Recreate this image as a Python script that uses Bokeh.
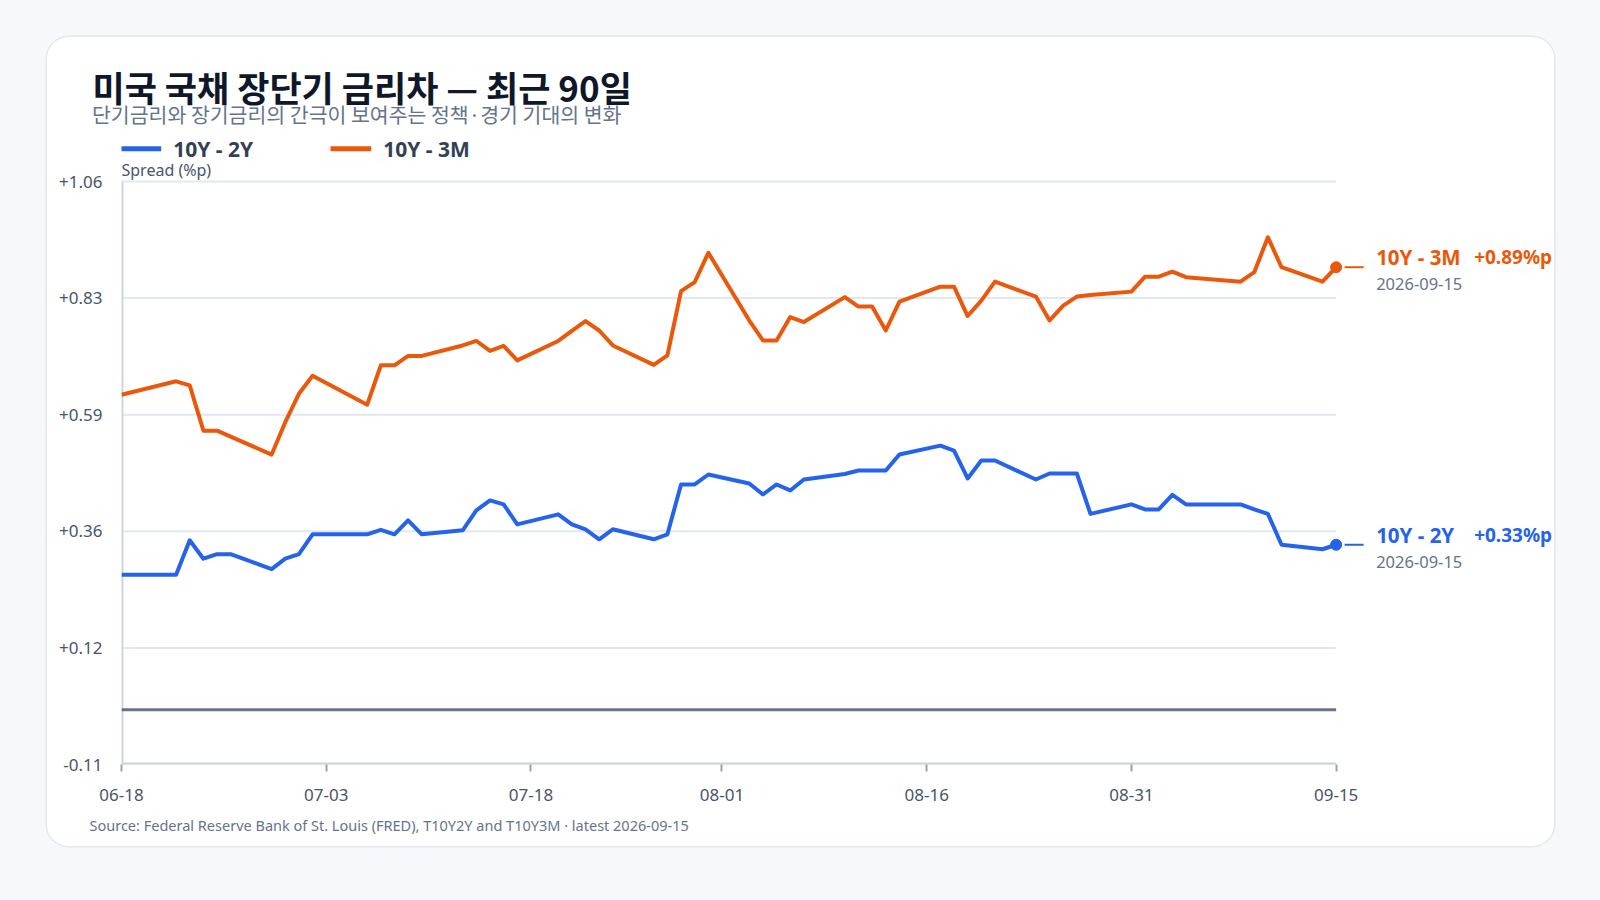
import pandas as pd
from bokeh.plotting import figure
from bokeh.models import (Range1d, FixedTicker, CustomJSTickFormatter, DatetimeTickFormatter,
                          Label, BoxAnnotation, Title)
from bokeh.core.properties import value
from bokeh.embed import file_html
from bokeh.resources import INLINE

# ---------------- data ----------------
DATES = [
    "2026-06-18", "2026-06-22", "2026-06-23", "2026-06-24", "2026-06-25", "2026-06-26",
    "2026-06-29", "2026-06-30", "2026-07-01", "2026-07-02",
    "2026-07-06", "2026-07-07", "2026-07-08", "2026-07-09", "2026-07-10",
    "2026-07-13", "2026-07-14", "2026-07-15", "2026-07-16", "2026-07-17",
    "2026-07-20", "2026-07-21", "2026-07-22", "2026-07-23", "2026-07-24",
    "2026-07-27", "2026-07-28", "2026-07-29", "2026-07-30", "2026-07-31",
    "2026-08-03", "2026-08-04", "2026-08-05", "2026-08-06", "2026-08-07",
    "2026-08-10", "2026-08-11", "2026-08-12", "2026-08-13", "2026-08-14",
    "2026-08-17", "2026-08-18", "2026-08-19", "2026-08-20", "2026-08-21",
    "2026-08-24", "2026-08-25", "2026-08-26", "2026-08-27", "2026-08-28",
    "2026-08-31", "2026-09-01", "2026-09-02", "2026-09-03", "2026-09-04",
    "2026-09-08", "2026-09-09", "2026-09-10", "2026-09-11",
    "2026-09-14", "2026-09-15",
]
SPREAD_10Y2Y = [
    0.271, 0.271, 0.340, 0.303, 0.312, 0.312,
    0.282, 0.303, 0.312, 0.352,
    0.352, 0.361, 0.352, 0.380, 0.352,
    0.360, 0.400, 0.420, 0.412, 0.372,
    0.392, 0.372, 0.362, 0.342, 0.362,
    0.342, 0.352, 0.452, 0.452, 0.472,
    0.454, 0.432, 0.452, 0.440, 0.462,
    0.473, 0.480, 0.480, 0.480, 0.512,
    0.530, 0.520, 0.464, 0.500, 0.500,
    0.462, 0.474, 0.474, 0.474, 0.393,
    0.412, 0.402, 0.402, 0.431, 0.412,
    0.412, 0.402, 0.393, 0.331,
    0.322, 0.331,
]
SPREAD_10Y3M = [
    0.632, 0.659, 0.651, 0.560, 0.560, 0.548,
    0.512, 0.577, 0.634, 0.670,
    0.612, 0.691, 0.691, 0.710, 0.710,
    0.731, 0.740, 0.720, 0.730, 0.701,
    0.740, 0.760, 0.780, 0.761, 0.731,
    0.692, 0.711, 0.840, 0.858, 0.917,
    0.781, 0.741, 0.741, 0.788, 0.778,
    0.828, 0.809, 0.809, 0.761, 0.819,
    0.849, 0.849, 0.790, 0.821, 0.859,
    0.829, 0.781, 0.811, 0.829, 0.832,
    0.839, 0.869, 0.869, 0.879, 0.868,
    0.859, 0.878, 0.948, 0.888,
    0.859, 0.888,
]
SERIES_NAMES = ["10Y - 2Y", "10Y - 3M"]
X_TICK_DATES = ["2026-06-18", "2026-07-03", "2026-07-18", "2026-08-01",
                "2026-08-16", "2026-08-31", "2026-09-15"]
Y_MIN, Y_MAX = -0.11, 1.06
Y_TICKS = [-0.11, 0.124, 0.358, 0.592, 0.826, 1.06]

TITLE = "미국 국채 장단기 금리차 — 최근 90일"
SUBTITLE = "단기금리와 장기금리의 간극이 보여주는 정책·경기 기대의 변화"
Y_LABEL = "Spread (%p)"
SOURCE = "Source: Federal Reserve Bank of St. Louis (FRED), T10Y2Y and T10Y3M · latest 2026-09-15"

# ---------------- style ----------------
BLUE = "#2563eb"
ORANGE = "#ea580c"
BG = "#f6f8fb"
GRID = "#e2e8f0"
AXIS = "#cbd5e1"
TICK = "#94a3b8"
ZERO = "#64748b"
MUTED = "#64748b"
LABEL = "#475569"
DARK = "#0f172a"
LEGEND_TXT = "#334155"
FONT = "Noto Sans, Noto Sans CJK KR, sans-serif"
FONT_KR = "Noto Sans CJK KR, Noto Sans, sans-serif"

# card geometry (figure = card)
CARD_X, CARD_Y = 47, 37
FL = 74                     # frame left inside card
FT = 95                     # frame top inside card (room for legend)
AXIS_SPAN_PX = 583          # pixel height of the y-axis span
TOP_ROOM_PX = 49            # frame space above the y-axis top (legend row)
FRAME_W = 1433
FRAME_H = AXIS_SPAN_PX + TOP_ROOM_PX
MB_BOTTOM = 81
PAD_DAYS = 16

DAY_MS = 86400000.0
epoch = pd.Timestamp("1970-01-01")
def to_ms(s):
    return float((pd.Timestamp(s) - epoch) / pd.Timedelta(milliseconds=1))

x_ms = [to_ms(d) for d in DATES]
tick_ms = [to_ms(d) for d in X_TICK_DATES]
x0, x_last = x_ms[0], x_ms[-1]
span_days = (x_last - x0) / DAY_MS
PX_PER_DAY = FRAME_W / (span_days + PAD_DAYS)
y_top = Y_MAX + (Y_MAX - Y_MIN) * TOP_ROOM_PX / AXIS_SPAN_PX

p = figure(frame_width=FRAME_W, frame_height=FRAME_H,
           x_axis_type="datetime",
           x_range=Range1d(x0, x_last + PAD_DAYS * DAY_MS),
           y_range=Range1d(Y_MIN, y_top),
           output_backend="svg", toolbar_location=None,
           min_border_left=FL, min_border_top=FT,
           min_border_right=0, min_border_bottom=MB_BOTTOM,
           background_fill_color="white", border_fill_color="white",
           outline_line_color=None)
p.grid.visible = False
p.margin = (CARD_Y, 0, 0, CARD_X)
p.styles = {"border-radius": "22px", "overflow": "hidden",
            "box-shadow": "0 0 0 1.5px #e2e8f0, 0 0 0 3000px " + BG}

# horizontal gridlines (only across data span)
p.segment(x0=[x0] * len(Y_TICKS), x1=[x_last] * len(Y_TICKS), y0=Y_TICKS, y1=Y_TICKS,
          line_color=GRID, line_width=2)
# axis baselines across the data span
p.segment(x0=[x0], x1=[x_last], y0=[Y_MIN], y1=[Y_MIN], line_color=AXIS, line_width=4)
p.segment(x0=[x0], x1=[x0], y0=[Y_MIN], y1=[Y_MAX], line_color=AXIS, line_width=4)
# zero line
p.segment(x0=[x0], x1=[x_last], y0=[0], y1=[0], line_color=ZERO, line_width=3)

# series
for vals, col in ((SPREAD_10Y2Y, BLUE), (SPREAD_10Y3M, ORANGE)):
    p.line(x_ms, vals, line_color=col, line_width=4, line_join="round")

# end markers and labels
for name, vals, col in ((SERIES_NAMES[0], SPREAD_10Y2Y, BLUE), (SERIES_NAMES[1], SPREAD_10Y3M, ORANGE)):
    last = vals[-1]
    p.scatter([x_last], [last], size=11, fill_color=col, line_color=col)
    p.segment(x0=[x_last + 8.5 / PX_PER_DAY * DAY_MS], x1=[x_last + 27.5 / PX_PER_DAY * DAY_MS],
              y0=[last], y1=[last], line_color=col, line_width=2)
    p.text(x=[x_last], y=[last], text=[name],
           x_offset=40, y_offset=-10, text_font=value(FONT), text_font_style="bold",
           text_font_size="20.5px", text_color=col, text_baseline="middle", text_align="left")
    p.text(x=[x_last], y=[last], text=[f"{last:+.2f}%p"],
           x_offset=138, y_offset=-10, text_font=value(FONT), text_font_style="bold",
           text_font_size="19px", text_color=col, text_baseline="middle", text_align="left")
    p.text(x=[x_last], y=[last], text=[DATES[-1]],
           x_offset=40, y_offset=17, text_font=value(FONT),
           text_font_size="16.5px", text_color=MUTED, text_baseline="middle", text_align="left")

# axes
xa = p.xaxis[0]
xa.ticker = FixedTicker(ticks=tick_ms)
xa.formatter = DatetimeTickFormatter(days="%m-%d", months="%m-%d", years="%m-%d", hours="%m-%d")
xa.axis_line_color = None
xa.major_tick_line_color = TICK
xa.major_tick_line_width = 2
xa.major_tick_in = 0
xa.major_tick_out = 7
xa.minor_tick_line_color = None
xa.major_label_text_font = FONT
xa.major_label_text_font_size = "17px"
xa.major_label_text_color = LABEL
xa.major_label_standoff = 17

ya = p.yaxis[0]
ya.ticker = FixedTicker(ticks=Y_TICKS)
ya.formatter = CustomJSTickFormatter(code="return (tick > 0 ? '+' : '') + tick.toFixed(2);")
ya.axis_line_color = None
ya.major_tick_line_color = None
ya.major_tick_in = 0
ya.major_tick_out = 0
ya.minor_tick_line_color = None
ya.major_label_text_font = FONT
ya.major_label_text_font_size = "17px"
ya.major_label_text_color = LABEL
ya.major_label_standoff = 19

# titles above (first added = closest to frame) and source below
p.add_layout(Title(text=SUBTITLE, align="left", offset=-29.5, vertical_align="middle", standoff=5,
                   text_font=FONT_KR, text_font_size="20.5px", text_font_style="normal",
                   text_color=MUTED), "above")
p.add_layout(Title(text=TITLE, align="left", offset=-29, vertical_align="middle", standoff=-35,
                   text_font=FONT_KR, text_font_size="35px", text_font_style="bold",
                   text_color=DARK), "above")
p.add_layout(Title(text=SOURCE, align="left", offset=-32, vertical_align="middle", standoff=21,
                   text_font=FONT, text_font_size="14.5px", text_font_style="normal",
                   text_color=MUTED), "below")

# in-frame texts (screen units relative to frame bottom-left)
FB = FT + FRAME_H
def sy(card_y):
    return FB - card_y
def sx(card_x):
    return card_x - FL

p.add_layout(Label(x=sx(74), y=sy(132), x_units="screen", y_units="screen", text=Y_LABEL,
                   text_font=FONT, text_font_size="16px",
                   text_color=LABEL, text_baseline="alphabetic"))

for i, (name, col) in enumerate(zip(SERIES_NAMES, (BLUE, ORANGE))):
    lx = 73 + i * 210
    p.add_layout(BoxAnnotation(left=sx(lx), right=sx(lx + 40.7), top=sy(108.8), bottom=sy(113.8),
                               left_units="screen", right_units="screen",
                               top_units="screen", bottom_units="screen",
                               fill_color=col, fill_alpha=1.0, line_color=None))
    p.add_layout(Label(x=sx(lx + 52.7), y=sy(111.5), x_units="screen", y_units="screen", text=name,
                       text_font=FONT, text_font_style="bold", text_font_size="21px",
                       text_color=LEGEND_TXT, text_baseline="middle"))

open("out.html", "w").write(file_html(p, INLINE))
